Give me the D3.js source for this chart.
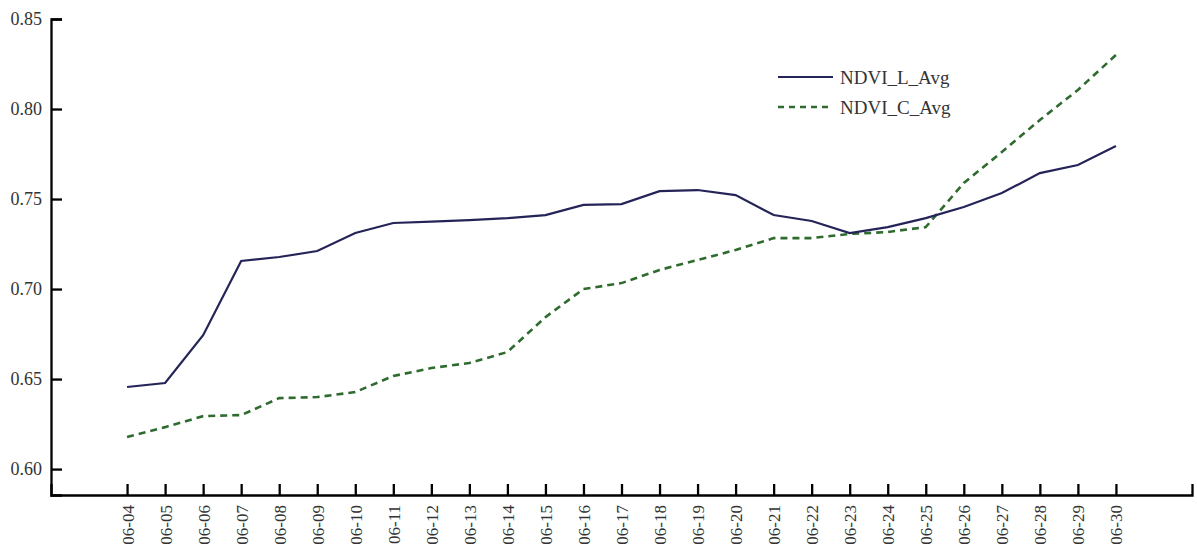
<!DOCTYPE html>
<html>
<head>
<meta charset="utf-8">
<script src="https://cdn.jsdelivr.net/npm/d3@7"></script>
<style>
	body { margin: 0; background: #fff; }
	.axis path, .axis line { stroke: #000; stroke-width: 2.3px; }
	.axis text { font-family: "Liberation Serif", "Times New Roman", serif; fill: #333; }
	.legend text { font-family: "Liberation Serif", "Times New Roman", serif; fill: #333; font-size: 19px; }
</style>
</head>
<body>
<div class="chart"></div>
<script>
// dates on the x axis
const dates = ['06-04', '06-05', '06-06', '06-07', '06-08', '06-09', '06-10', '06-11', '06-12',
	'06-13', '06-14', '06-15', '06-16', '06-17', '06-18', '06-19', '06-20', '06-21', '06-22',
	'06-23', '06-24', '06-25', '06-26', '06-27', '06-28', '06-29', '06-30'];

const ndviL = [0.6456, 0.6478, 0.6744, 0.7156, 0.7178, 0.7211, 0.7311, 0.7367, 0.7375,
	0.7383, 0.7394, 0.7411, 0.7467, 0.7472, 0.7544, 0.7550, 0.7522, 0.7411, 0.7378,
	0.7311, 0.7344, 0.7394, 0.7456, 0.7533, 0.7644, 0.7689, 0.7794];

const ndviC = [0.6178, 0.6233, 0.6294, 0.6300, 0.6394, 0.6400, 0.6428, 0.6517, 0.6561,
	0.6589, 0.6650, 0.6844, 0.7000, 0.7033, 0.7106, 0.7161, 0.7217, 0.7283, 0.7283,
	0.7306, 0.7317, 0.7344, 0.7589, 0.7761, 0.7939, 0.8106, 0.8300];

const yTicks = [0.60, 0.65, 0.70, 0.75, 0.80, 0.85];

const seriesNames = ['NDVI_L_Avg', 'NDVI_C_Avg'];

const outerW = 1197,
	outerH = 551;

const margin = {
	left: 51,
	right: 5,
	top: 19,
	bottom: 56
};

const w = outerW - margin.left - margin.right,
	h = outerH - margin.top - margin.bottom;

// index scale, padded two steps each side like the original
const x = d3.scaleLinear()
	.domain([-2, dates.length + 1])
	.range([0, w]);

const y = d3.scaleLinear()
	.domain([0.5856, 0.85])
	.range([h, 0]);

const svg = d3.select('.chart').append('svg')
	.attr('width', outerW)
	.attr('height', outerH);

const g = svg.append('g')
	.attr('transform', `translate(${margin.left}, ${margin.top})`);

// Lines
const line = d3.line()
	.x((d, i) => x(i))
	.y(d => y(d));

g.append('path')
	.datum(ndviC)
	.attr('fill', 'none')
	.attr('stroke', '#2f6b2f')
	.attr('stroke-width', 2.6)
	.attr('stroke-dasharray', '7,5')
	.attr('d', line);

g.append('path')
	.datum(ndviL)
	.attr('fill', 'none')
	.attr('stroke', '#242458')
	.attr('stroke-width', 2.2)
	.attr('d', line);

// Axes
const xAxis = g.append('g')
	.attr('class', 'x axis')
	.attr('transform', `translate(0, ${h})`)
	.call(d3.axisBottom(x)
		.tickValues(d3.range(dates.length))
		.tickFormat(i => dates[i])
		.tickSize(-11)
		.tickSizeOuter(-11)
		.tickPadding(10)
	);

xAxis.selectAll('text')
	.style('font-size', '17px')
	.attr('text-anchor', 'end')
	.attr('transform', 'rotate(-90)')
	.attr('x', -10)
	.attr('y', 0)
	.attr('dy', '0.35em');

const yAxis = g.append('g')
	.attr('class', 'y axis')
	.call(d3.axisLeft(y)
		.tickValues(yTicks)
		.tickFormat(d3.format('.2f'))
		.tickSize(-11)
		.tickSizeOuter(-11)
		.tickPadding(9)
	);

yAxis.selectAll('text')
	.style('font-size', '18px');

// Legend
const legend = g.append('g')
	.attr('class', 'legend')
	.attr('transform', `translate(${778 - margin.left}, ${77 - margin.top})`);

const legendItems = legend.selectAll('.legend-item')
	.data(seriesNames)
	.enter().append('g')
	.attr('class', 'legend-item')
	.attr('transform', (d, i) => `translate(0, ${i * 30})`);

legendItems.append('line')
	.attr('x1', 0)
	.attr('x2', 55)
	.attr('stroke', (d, i) => i === 0 ? '#242458' : '#2f6b2f')
	.attr('stroke-width', (d, i) => i === 0 ? 2.2 : 2.6)
	.attr('stroke-dasharray', (d, i) => i === 0 ? null : '6,5');

legendItems.append('text')
	.attr('x', 62)
	.attr('dy', '0.35em')
	.text(d => d);
</script>
</body>
</html>
